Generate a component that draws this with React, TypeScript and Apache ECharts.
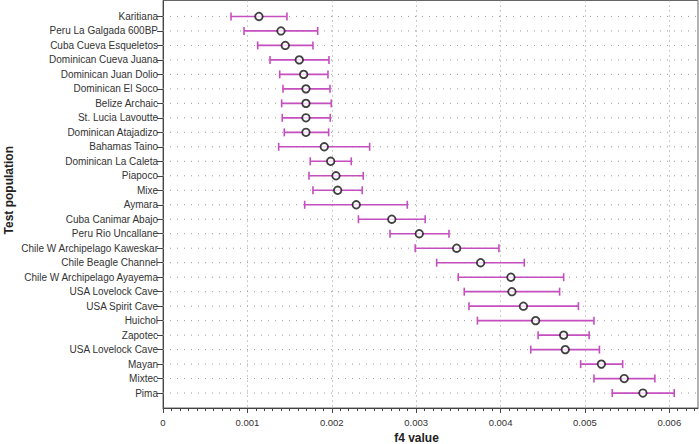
import React, { useEffect, useRef } from "react";
import * as echarts from "echarts";

const populations = [
  "Karitiana",
  "Peru La Galgada 600BP",
  "Cuba Cueva Esqueletos",
  "Dominican Cueva Juana",
  "Dominican Juan Dolio",
  "Dominican El Soco",
  "Belize Archaic",
  "St. Lucia Lavoutte",
  "Dominican Atajadizo",
  "Bahamas Taino",
  "Dominican La Caleta",
  "Piapoco",
  "Mixe",
  "Aymara",
  "Cuba Canimar Abajo",
  "Peru Rio Uncallane",
  "Chile W Archipelago Kaweskar",
  "Chile Beagle Channel",
  "Chile W Archipelago Ayayema",
  "USA Lovelock Cave",
  "USA Spirit Cave",
  "Huichol",
  "Zapotec",
  "USA Lovelock Cave",
  "Mayan",
  "Mixtec",
  "Pima",
];

const f4Values = [
  0.001137, 0.001398, 0.001449, 0.001615, 0.001667, 0.001694, 0.001694, 0.001694, 0.001694,
  0.001911, 0.001987, 0.00205, 0.00207, 0.00229, 0.002711, 0.003037, 0.00348, 0.003764,
  0.004123, 0.004135, 0.004271, 0.004416, 0.004748, 0.004767, 0.005195, 0.005466, 0.005687,
];

const lowerValues = [
  0.000806, 0.00096, 0.001122, 0.001268, 0.001383, 0.001422, 0.001406, 0.001413, 0.001437,
  0.001371, 0.001745, 0.00173, 0.001777, 0.001679, 0.002316, 0.00269, 0.002989, 0.003243,
  0.003499, 0.00357, 0.003626, 0.003726, 0.004445, 0.004358, 0.004949, 0.005107, 0.005324,
];

const upperValues = [
  0.001469, 0.001833, 0.001777, 0.001967, 0.001955, 0.001979, 0.001994, 0.001982, 0.001963,
  0.002449, 0.002231, 0.002373, 0.002361, 0.002895, 0.003107, 0.003389, 0.003981, 0.004281,
  0.004748, 0.0047, 0.004923, 0.005107, 0.00505, 0.005172, 0.005447, 0.005829, 0.006058,
];

const majorTicks = [0, 0.001, 0.002, 0.003, 0.004, 0.005, 0.006];
const minorTickStep = 0.0001;
const minorTickCount = 63;

const X_MIN = 0;
const X_MAX = 0.00634;
const FONT = "'Liberation Sans', Arial, Helvetica, sans-serif";
const BAR_COLOR = "#c64fc0";

export default function App() {
  const ref = useRef<HTMLDivElement>(null);

  useEffect(() => {
    if (!ref.current) return;
    const chart = echarts.init(ref.current, undefined, { renderer: "svg" });

    const rowIdx = populations.map((_, i) => i);
    const minorTicks: number[] = [];
    for (let i = 0; i <= minorTickCount; i++) minorTicks.push(+(i * minorTickStep).toFixed(6));

    const errData = populations.map((_, i) => [lowerValues[i], upperValues[i], i]);
    const ptData = populations.map((_, i) => [f4Values[i], i]);
    const rowLineData = rowIdx.map((i) => [X_MIN, X_MAX, i]);

    chart.setOption({
      animation: false,
      textStyle: { fontFamily: FONT },
      grid: {
        left: 163,
        right: 1,
        top: 0.5,
        bottom: 36,
        show: true,
        borderColor: "#666",
        borderWidth: 1,
        backgroundColor: "transparent",
        containLabel: false,
        outerBoundsMode: "none",
      },
      xAxis: [
        {
          type: "value",
          min: X_MIN,
          max: X_MAX,
          position: "bottom",
          name: "f4 value",
          nameLocation: "middle",
          nameGap: 23.5,
          nameMoveOverlap: false,
          nameTextStyle: {
            fontSize: 12,
            fontWeight: "bold",
            color: "#222",
            fontFamily: FONT,
            padding: [0, 28, 0, 0],
          },
          axisLine: { show: true, onZero: false, lineStyle: { color: "#444", width: 1 } },
          axisTick: {
            show: true,
            length: 5,
            customValues: majorTicks,
            lineStyle: { color: "#444" },
          },
          axisLabel: {
            customValues: majorTicks,
            formatter: (v: number) => (v === 0 ? "0" : String(+v.toFixed(3))),
            fontSize: 9.5,
            color: "#333",
            margin: 9,
            fontFamily: FONT,
          },
          splitLine: {
            show: true,
            lineStyle: { color: "#999", type: [1, 4], width: 1 },
          },
        },
        {
          type: "value",
          min: X_MIN,
          max: X_MAX,
          position: "bottom",
          axisLine: { show: false, onZero: false },
          axisTick: {
            show: true,
            length: 3,
            customValues: minorTicks,
            lineStyle: { color: "#444" },
          },
          axisLabel: { show: false },
          splitLine: { show: false },
        },
      ],
      yAxis: {
        type: "value",
        inverse: true,
        min: -1.1,
        max: 27.03,
        name: "Test population",
        nameLocation: "middle",
        nameGap: 148,
        nameMoveOverlap: false,
        nameTextStyle: {
          fontSize: 12,
          fontWeight: "bold",
          color: "#222",
          fontFamily: FONT,
          padding: [0, 0, 0, 28],
        },
        axisLine: { show: true, onZero: false, lineStyle: { color: "#444", width: 1 } },
        axisTick: {
          show: true,
          length: 6,
          customValues: rowIdx,
          lineStyle: { color: "#444" },
        },
        axisLabel: {
          customValues: rowIdx,
          formatter: (v: number) => populations[Math.round(v)] ?? "",
          fontSize: 10,
          color: "#333",
          margin: 5,
          fontFamily: FONT,
        },
        splitLine: { show: false },
      },
      series: [
        {
          type: "custom",
          xAxisIndex: 0,
          data: rowLineData,
          encode: { x: [0, 1], y: 2 },
          silent: true,
          renderItem: (params: any, api: any) => {
            const a = api.coord([api.value(0), api.value(2)]);
            const b = api.coord([api.value(1), api.value(2)]);
            return {
              type: "line",
              shape: { x1: a[0], y1: a[1], x2: b[0], y2: b[1] },
              style: { stroke: "#999", lineWidth: 1, lineDash: [1, 6] },
            };
          },
          z: 1,
        },
        {
          type: "custom",
          xAxisIndex: 0,
          data: errData,
          encode: { x: [0, 1], y: 2 },
          renderItem: (params: any, api: any) => {
            const lo = api.coord([api.value(0), api.value(2)]);
            const hi = api.coord([api.value(1), api.value(2)]);
            const h = 4;
            const style = { stroke: BAR_COLOR, lineWidth: 1.6 };
            return {
              type: "group",
              children: [
                { type: "line", shape: { x1: lo[0], y1: lo[1], x2: hi[0], y2: hi[1] }, style },
                { type: "line", shape: { x1: lo[0], y1: lo[1] - h, x2: lo[0], y2: lo[1] + h }, style },
                { type: "line", shape: { x1: hi[0], y1: hi[1] - h, x2: hi[0], y2: hi[1] + h }, style },
              ],
            };
          },
          z: 2,
        },
        {
          type: "scatter",
          xAxisIndex: 0,
          data: ptData,
          symbol: "circle",
          symbolSize: 7.5,
          itemStyle: { color: "#fff", borderColor: "#111", borderWidth: 1.8 },
          z: 3,
        },
      ],
    });

    return () => chart.dispose();
  }, []);

  return (
    <div
      ref={ref}
      style={{ position: "fixed", left: 0, top: 0, width: 699, height: 444, background: "#fff" }}
    />
  );
}
